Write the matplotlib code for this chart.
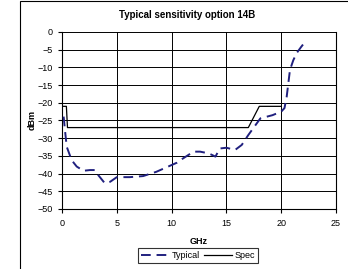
import matplotlib.pyplot as plt
from matplotlib.patches import Rectangle

plt.rcParams['font.family'] = ['Liberation Sans', 'DejaVu Sans']

# Typical sensitivity
typ_ghz = [0.15, 0.27, 0.43, 0.88, 1.34, 1.95, 2.55, 3.0, 3.3, 3.9, 4.4, 5.0, 6.2, 7.4, 8.6,
           10.5, 10.8, 12.0, 12.6, 13.4, 14.0, 14.4, 15.0, 15.8, 16.4, 17.0, 18.1, 19.2,
           20.0, 20.3, 20.5, 20.8, 21.1, 21.4, 21.8, 22.3]
typ_dbm = [-23.9, -27.7, -32.4, -36.2, -38.0, -39.2, -39.0, -39.0, -40.4, -42.7, -42.3, -41.0,
           -41.0, -40.7, -39.5, -36.9, -36.2, -33.8, -33.8, -34.3, -35.2, -32.9, -32.7, -33.3,
           -31.9, -29.1, -24.4, -23.5, -22.5, -21.5, -18.3, -10.7, -8.0, -6.0, -4.3, -2.3]

# Spec limit
spec_ghz = [0.15, 0.4, 0.5, 17.0, 18.0, 20.0]
spec_dbm = [-21, -21, -27, -27, -21, -21]

fig = plt.figure(figsize=(3.48, 2.69), dpi=100)
ax = fig.add_axes([62/348, 60/269, 274/348, 177/269])

ax.plot(typ_ghz, typ_dbm, color='#20207f', lw=1.4, dashes=(5, 3), label='Typical', zorder=3)
ax.plot(spec_ghz, spec_dbm, color='black', lw=0.9, label='Spec', zorder=2)

ax.set_xlim(0, 25)
ax.set_ylim(-50, 0)
ax.set_xticks(range(0, 26, 5))
ax.set_yticks(range(-50, 1, 5))
ax.grid(True, color='black', lw=0.7)
ax.set_axisbelow(True)
ax.spines['top'].set_visible(False)
for s in ['right', 'left', 'bottom']:
  ax.spines[s].set_linewidth(0.8)
ax.tick_params(labelsize=6.5, length=3, width=0.8, pad=4)
ax.set_xlabel('GHz', fontsize=6.5, fontweight='bold', labelpad=7)
ax.set_ylabel('dBm', fontsize=6.5, fontweight='bold', labelpad=0)

fig.text(187/348, 1 - 15/269, 'Typical sensitivity option 14B', ha='center', va='center',
         fontsize=7, fontweight='bold')

leg = ax.legend(loc='center', bbox_to_anchor=(198/348, 1 - 255.5/269),
                bbox_transform=fig.transFigure, ncol=2, fontsize=6.5, frameon=True,
                fancybox=False, edgecolor='black', handlelength=3.1, handletextpad=0.3,
                columnspacing=0.5, borderpad=0.3, borderaxespad=0)
leg.get_frame().set_linewidth(0.8)

# chart area border
fig.patches.append(Rectangle((20/348, -0.1), 1.0, 1 - 1/269 + 0.1, transform=fig.transFigure,
                             fill=False, edgecolor='black', lw=0.8))

fig.savefig('out.png', dpi=100)
